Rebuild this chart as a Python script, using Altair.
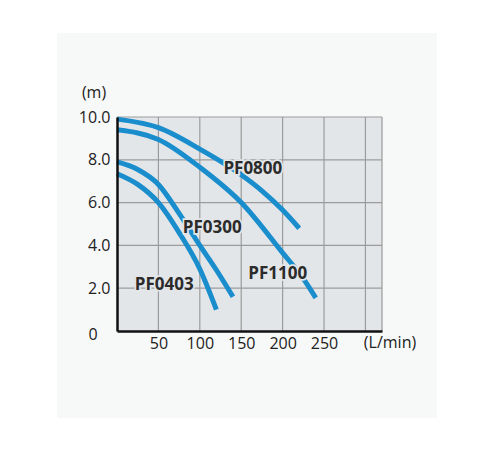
import altair as alt
import pandas as pd

# pump curves: flow (L/min) against head (m)
pf0800_flow = [0, 50, 100, 150, 175, 200, 220]
pf0800_head = [9.9, 9.5, 8.5, 7.3, 6.55, 5.65, 4.8]
pf1100_flow = [0, 50, 100, 150, 200, 225, 240]
pf1100_head = [9.4, 8.95, 7.65, 6.0, 3.65, 2.45, 1.55]
pf0300_flow = [0, 25, 50, 75, 100, 120, 140]
pf0300_head = [7.9, 7.55, 6.85, 5.5, 4.0, 2.85, 1.6]
pf0403_flow = [0, 25, 50, 75, 100, 120]
pf0403_head = [7.35, 6.85, 6.0, 4.6, 2.9, 1.0]

label_names = ["PF0800", "PF1100", "PF0300", "PF0403"]
label_flow = [164, 194, 115, 57]
label_head = [7.55, 2.65, 4.8, 2.15]

x_ticks = [50, 100, 150, 200, 250]
x_grid = [50, 100, 150, 200, 250, 300, 320]
y_ticks = [2, 4, 6, 8, 10]

BLUE = "#1a8dcd"
PLOT_BG = "#e3e6e9"
GRID = "#9b9b9b"
FONT = "Open Sans"


def pump(name, flow, head):
    return pd.DataFrame({"pump": name, "flow": flow, "head": head})


curves = pd.concat(
    [
        pump("PF0800", pf0800_flow, pf0800_head),
        pump("PF1100", pf1100_flow, pf1100_head),
        pump("PF0300", pf0300_flow, pf0300_head),
        pump("PF0403", pf0403_flow, pf0403_head),
    ]
)
labels = pd.DataFrame({"name": label_names, "flow": label_flow, "head": label_head})
one = pd.DataFrame({"k": [0]})

xs = alt.Scale(domain=[0, 320], nice=False)
ys = alt.Scale(domain=[0, 10], nice=False)

axis_style = dict(
    grid=False,
    ticks=False,
    domainColor="#111111",
    domainWidth=2.5,
    labelFont=FONT,
    labelFontSize=16,
    labelColor="#222222",
    zindex=1,
)
x_axis = alt.Axis(values=x_ticks, labelPadding=4, **axis_style)
y_axis = alt.Axis(values=y_ticks, format=".1f", labelPadding=7, **axis_style)

X = alt.X("flow:Q", scale=xs, axis=x_axis, title=None)
Y = alt.Y("head:Q", scale=ys, axis=y_axis, title=None)

panel = (
    alt.Chart(one)
    .mark_rect(color="#f7f8f8")
    .encode(x=alt.value(-60), x2=alt.value(320), y=alt.value(-84), y2=alt.value(301))
)
plot_bg = (
    alt.Chart(one)
    .mark_rect(color=PLOT_BG)
    .encode(x=alt.value(0), x2=alt.value("width"), y=alt.value(0), y2=alt.value("height"))
)
v_grid = (
    alt.Chart(pd.DataFrame({"flow": x_grid}))
    .mark_rule(color=GRID, strokeWidth=1.2)
    .encode(x=X)
)
h_grid = (
    alt.Chart(pd.DataFrame({"head": y_ticks}))
    .mark_rule(color=GRID, strokeWidth=1.2)
    .encode(y=Y)
)
lines = (
    alt.Chart(curves)
    .mark_line(color=BLUE, strokeWidth=5, interpolate="monotone")
    .encode(x=X, y=Y, detail="pump:N")
)
halo = (
    alt.Chart(labels)
    .mark_text(font=FONT, fontSize=17, fontWeight="bold", color=PLOT_BG,
               stroke=PLOT_BG, strokeWidth=3.5)
    .encode(x=X, y=Y, text="name:N")
)
names = (
    alt.Chart(labels)
    .mark_text(font=FONT, fontSize=17, fontWeight="bold", color="#2b2b2b")
    .encode(x=X, y=Y, text="name:N")
)


def note(text, px, py):
    return (
        alt.Chart(pd.DataFrame({"t": [text]}))
        .mark_text(font=FONT, fontSize=16, color="#222222")
        .encode(x=alt.value(px), y=alt.value(py), text="t:N")
    )


chart = (
    alt.layer(
        panel, plot_bg, v_grid, h_grid, lines, halo, names,
        note("(m)", -23, -24), note("(L/min)", 273, 226), note("0", -24, 218),
    )
    .properties(
        width=265,
        height=214,
        autosize=alt.AutoSizeParams(type="none"),
        padding={"left": 109, "top": 109, "right": 55, "bottom": 87},
        background="white",
    )
    .configure_view(strokeWidth=0)
)

chart.save("out.html", embed_options={"renderer": "svg", "actions": False})
